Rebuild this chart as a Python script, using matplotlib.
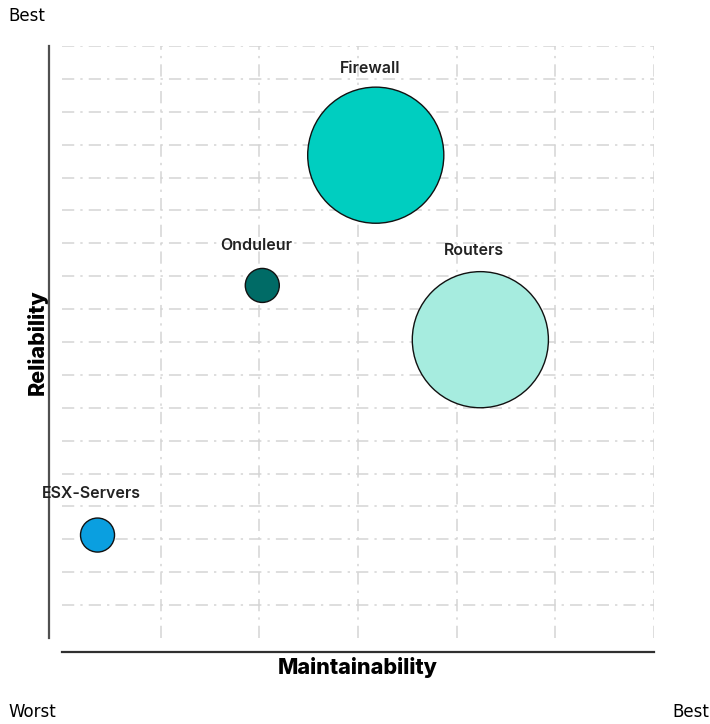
import numpy as np
import matplotlib.pyplot as plt

# assets placed on a maintainability / reliability map
names = ['Firewall', 'Routers', 'Onduleur', 'ESX-Servers']
maintainability = [3.18, 4.24, 2.03, 0.36]
reliability = [14.68, 9.07, 10.72, 3.13]
impact = [4, 4, 1, 1]
colors = ['#00CEC0', '#A6ECDF', '#006B66', '#0A9FE0']
label_dy = [2.65, 2.7, 1.2, 1.25]

fig = plt.figure(figsize=(7.10, 7.24), dpi=100)
ax = fig.add_axes([62 / 710, 86 / 724, 592 / 710, 592 / 724])

ax.set_xlim(0, 6)
ax.set_ylim(0, 18)
ax.set_xticks(range(1, 7))
ax.set_yticks(range(1, 19))
ax.tick_params(length=0, labelbottom=False, labelleft=False)
ax.grid(True, color='#d4d4d4', lw=1.1, linestyle=(0, (8, 4, 1.5, 4)))
ax.set_axisbelow(True)

for side in ['top', 'right']:
    ax.spines[side].set_visible(False)
ax.spines['left'].set_position(('outward', 9.5))
ax.spines['bottom'].set_position(('outward', 10))
ax.spines['left'].set_color('#505050')
ax.spines['bottom'].set_color('#303030')
ax.spines['left'].set_linewidth(1.6)
ax.spines['bottom'].set_linewidth(1.6)

# bubble diameter in points grows with impact
sizes = [(24.5 * k) ** 2 for k in impact]
ax.scatter(maintainability, reliability, s=sizes, c=colors,
           edgecolors='#111111', linewidths=1.0, zorder=3, clip_on=False)

for n, x, y, dy in zip(names, maintainability, reliability, label_dy):
    ax.text(x - 0.06, y + dy, n, ha='center', va='center', fontsize=11.5,
            family='Inter', weight='semibold', color='#222222', zorder=4)

ax.set_xlabel('Maintainability', fontsize=15.5, family='Inter', weight='heavy',
              labelpad=4)
ax.set_ylabel('Reliability', fontsize=15.5, family='Inter', weight='heavy',
              labelpad=1)

fig.text(8 / 710, 1 - 16 / 724, 'Best', fontsize=12, family='DejaVu Sans',
         va='center', ha='left')
fig.text(8 / 710, 1 - 712 / 724, 'Worst', fontsize=12, family='DejaVu Sans',
         va='center', ha='left')
fig.text(709 / 710, 1 - 712 / 724, 'Best', fontsize=12,
         family='DejaVu Sans', va='center', ha='right')

fig.savefig('out.png', dpi=100)
